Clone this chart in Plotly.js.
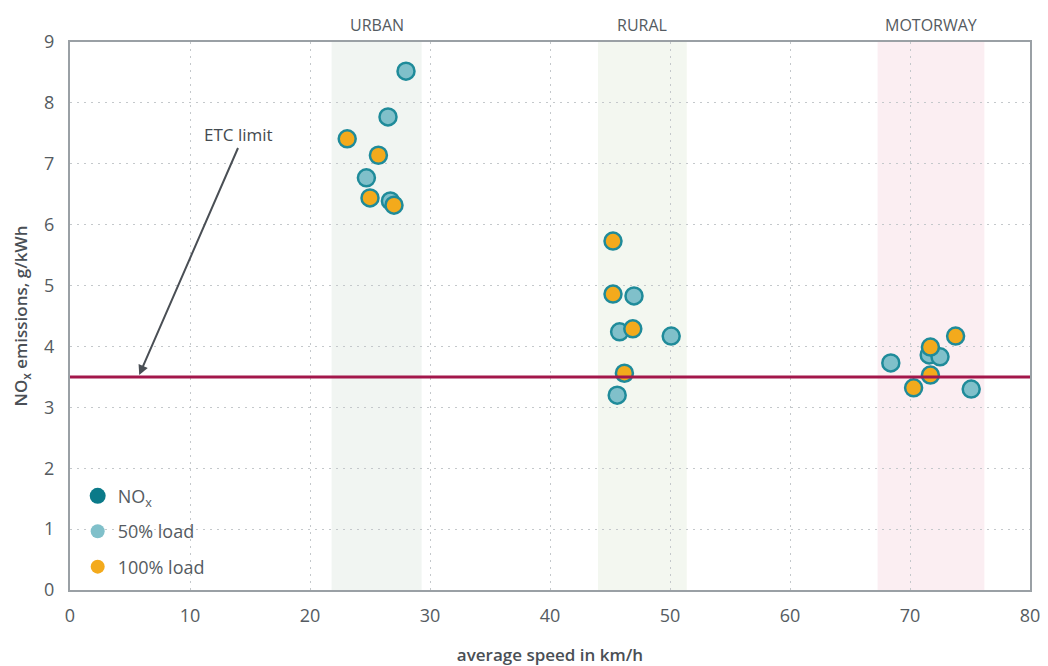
<!DOCTYPE html>
<html>
<head>
<meta charset="utf-8">
<script src="https://cdn.plot.ly/plotly-3.0.1.min.js"></script>
<style>html,body{margin:0;padding:0;background:#fff;}#chart{width:1048px;height:666px;}</style>
</head>
<body>
<div id="chart"></div>
<script>
// Data
const load50Speed = [28.0, 26.5, 24.7, 26.7, 47.0, 45.8, 50.1, 45.6, 68.4, 71.6, 72.5, 75.1];
const load50NOx   = [8.52, 7.77, 6.77, 6.39, 4.83, 4.24, 4.17, 3.20, 3.73, 3.86, 3.83, 3.30];
const load100Speed = [23.1, 25.7, 25.0, 27.0, 45.25, 45.25, 46.9, 46.2, 70.3, 71.7, 71.7, 73.8];
const load100NOx   = [7.41, 7.14, 6.44, 6.32, 5.73, 4.86, 4.29, 3.56, 3.32, 3.99, 3.53, 4.17];
const etcLimit = 3.5;
const regionNames = ['URBAN', 'RURAL', 'MOTORWAY'];
const regionStart = [21.8, 44.0, 67.3];
const regionEnd   = [29.3, 51.4, 76.2];
const regionColors = ['rgba(236,241,238,0.75)', 'rgba(238,244,234,0.7)', 'rgba(250,232,238,0.75)'];
const xTicks = [0, 10, 20, 30, 40, 50, 60, 70, 80];
const yTicks = [0, 1, 2, 3, 4, 5, 6, 7, 8, 9];
const legendNames = ['NO<sub>x</sub>', '50% load', '100% load'];
const legendColors = ['#0b7a89', '#80c0ca', '#f3aa1c'];
const legendSizes = [16, 14, 14];

const teal = '#1f8b9a';
const font = '"Open Sans", "DejaVu Sans", sans-serif';

const traces = [
  {x: load50Speed, y: load50NOx, type: 'scatter', mode: 'markers', name: '50% load', showlegend: false,
   marker: {color: '#80c0ca', size: 17, line: {color: teal, width: 2.5}}},
  {x: load100Speed, y: load100NOx, type: 'scatter', mode: 'markers', name: '100% load', showlegend: false,
   marker: {color: '#f3aa1c', size: 17, line: {color: teal, width: 2.5}}}
];
legendNames.forEach((n, i) => traces.push({
  x: [null], y: [null], type: 'scatter', mode: 'markers', name: n, legendgroup: 'g' + i,
  marker: {color: legendColors[i], size: legendSizes[i], line: {width: 0}}
}));

const shapes = regionNames.map((n, i) => ({
  type: 'rect', xref: 'x', yref: 'paper', x0: regionStart[i], x1: regionEnd[i], y0: 0, y1: 1,
  fillcolor: regionColors[i], line: {width: 0}, layer: 'below'
}));
shapes.push({type: 'line', xref: 'paper', yref: 'y', x0: 0, x1: 1, y0: etcLimit, y1: etcLimit,
  line: {color: '#a3174b', width: 3}, layer: 'above'});

const annotations = regionNames.map((n, i) => ({
  x: (regionStart[i] + regionEnd[i]) / 2, y: 1, xref: 'x', yref: 'paper', yanchor: 'bottom', yshift: 4,
  text: n, showarrow: false, font: {family: font, size: 16, color: '#555b61'}
}));
annotations.push({
  x: 5.7, y: etcLimit, xref: 'x', yref: 'y', ax: 170, ay: -230,
  text: 'ETC limit', showarrow: true, arrowhead: 2, arrowsize: 1, arrowwidth: 2, arrowcolor: '#4a4f55',
  standoff: 2, font: {family: font, size: 17, color: '#444a50'}, yanchor: 'bottom'
});

const layout = {
  width: 1048, height: 666,
  margin: {l: 70, r: 18, t: 42, b: 76},
  paper_bgcolor: '#fff', plot_bgcolor: 'rgba(0,0,0,0)',
  font: {family: font, size: 17, color: '#555b61'},
  showlegend: true,
  legend: {x: 0.008, y: 0.205, xanchor: 'left', yanchor: 'top', bgcolor: 'rgba(0,0,0,0)',
    font: {family: font, size: 18, color: '#555b61'}, itemsizing: 'trace', tracegroupgap: 9},
  xaxis: {range: [0, 80], tickvals: xTicks, showgrid: true, gridcolor: '#c4c8cb', griddash: '2px,5px', gridwidth: 1,
    showline: true, mirror: true, linecolor: '#9aa0a5', linewidth: 2, zeroline: false, ticks: '',
    tickfont: {family: font, size: 18, color: '#555b61'}, ticklabelstandoff: 8,
    title: {text: 'average speed in km/h', standoff: 26, font: {family: font, size: 17, color: '#4a4f55', weight: 600}}},
  yaxis: {range: [0, 9], tickvals: yTicks, showgrid: true, gridcolor: '#c4c8cb', griddash: '2px,5px', gridwidth: 1,
    showline: true, mirror: true, linecolor: '#9aa0a5', linewidth: 2, zeroline: false, ticks: '',
    tickfont: {family: font, size: 18, color: '#555b61'}, ticklabelstandoff: 10,
    title: {text: 'NO<sub>x</sub> emissions, g/kWh', standoff: 12, font: {family: font, size: 17, color: '#4a4f55', weight: 600}}},
  shapes: shapes,
  annotations: annotations
};

Plotly.newPlot('chart', traces, layout, {displayModeBar: false, staticPlot: true}).then(gd => {
  // place the ETC label tail at its reference pixel position
  const xa = gd._fullLayout.xaxis, ya = gd._fullLayout.yaxis;
  const headX = xa._offset + xa.l2p(5.7), headY = ya._offset + ya.l2p(etcLimit);
  Plotly.relayout(gd, {'annotations[3].ax': 238 - headX, 'annotations[3].ay': 148 - headY});
});
</script>
</body>
</html>
